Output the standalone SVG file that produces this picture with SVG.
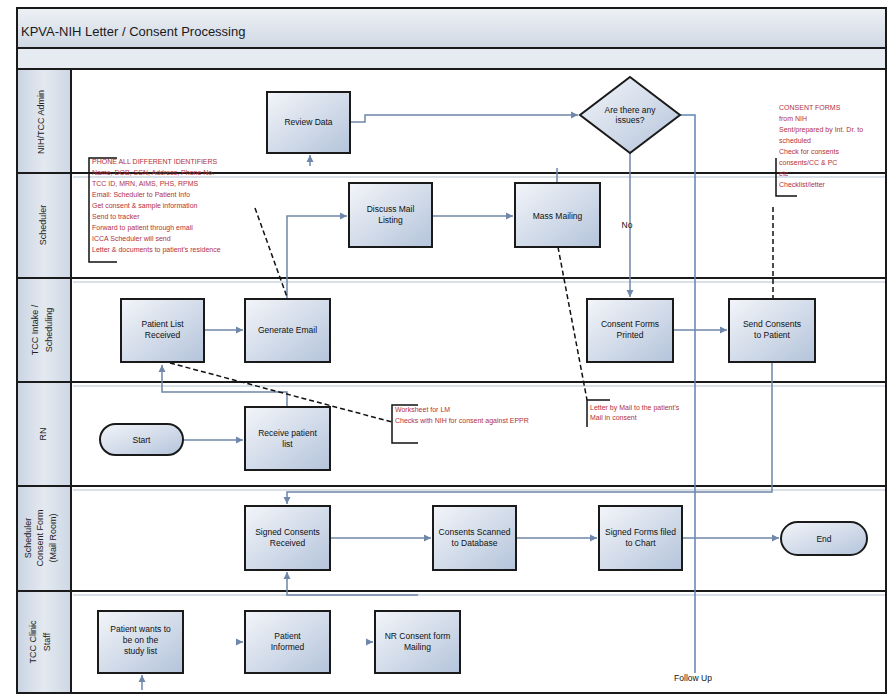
<svg xmlns="http://www.w3.org/2000/svg" width="888" height="695" viewBox="0 0 888 695">
<defs>
<linearGradient id="gBox" x1="0" y1="0" x2="1" y2="1">
<stop offset="0" stop-color="#f3f5f9"/>
<stop offset="1" stop-color="#b4c4db"/>
</linearGradient>
<linearGradient id="gHead" x1="0" y1="0" x2="1" y2="0">
<stop offset="0" stop-color="#c9d4e2"/>
<stop offset="0.5" stop-color="#e4e9f0"/>
<stop offset="1" stop-color="#cdd7e4"/>
</linearGradient>
<linearGradient id="gTitle" x1="0" y1="0" x2="0" y2="1">
<stop offset="0" stop-color="#eef1f5"/>
<stop offset="1" stop-color="#cfd8e3"/>
</linearGradient>
<marker id="arr" markerWidth="8" markerHeight="8" refX="7" refY="4" orient="auto" markerUnits="userSpaceOnUse">
<path d="M0,0.5 L7,4 L0,7.5 Z" fill="#6f87a8"/>
</marker>
</defs>
<style>
.box{fill:url(#gBox);stroke:#1a1a1a;stroke-width:2}
.lbl{font-family:"Liberation Sans",Arial,sans-serif;font-size:8.5px;fill:#111;text-anchor:middle}
.lane{font-family:"Liberation Sans",Arial,sans-serif;font-size:9px;fill:#222;text-anchor:middle}
.note{font-family:"Liberation Sans",Arial,sans-serif;font-size:7px;fill:#b3303c}
.div{stroke:#1a1a1a;stroke-width:2}
.div2{stroke:#cdd6e1;stroke-width:1.5}
.con{fill:none;stroke:#6f87a8;stroke-width:1.5}
.blue{fill:none;stroke:#5f84b8;stroke-width:1.5}
.ann{fill:none;stroke:#111;stroke-width:1.5;stroke-dasharray:5,3}
.brk{fill:none;stroke:#111;stroke-width:1.5}
</style>
<rect x="0" y="0" width="888" height="695" fill="#ffffff"/>
<g id="frame">
<rect x="17" y="8" width="869" height="40" fill="url(#gTitle)"/>
<rect x="17" y="48" width="869" height="20" fill="#e6ebf1"/>
<line x1="17" y1="48" x2="886" y2="48" class="div"/>
<line x1="17" y1="69" x2="886" y2="69" class="div"/>
<text x="21" y="36" font-family="Liberation Sans, Arial, sans-serif" font-size="13" fill="#1a1a1a">KPVA-NIH Letter / Consent Processing</text>
<rect x="17" y="70" width="54" height="623" fill="url(#gHead)"/>
<line x1="71" y1="70" x2="71" y2="693" class="div"/>
<line x1="73" y1="177" x2="886" y2="177" class="div2"/>
<line x1="73" y1="282" x2="886" y2="282" class="div2"/>
<line x1="73" y1="386" x2="886" y2="386" class="div2"/>
<line x1="73" y1="490" x2="886" y2="490" class="div2"/>
<line x1="73" y1="595" x2="886" y2="595" class="div2"/>
<line x1="17" y1="173" x2="886" y2="173" class="div"/>
<line x1="17" y1="278" x2="886" y2="278" class="div"/>
<line x1="17" y1="382" x2="886" y2="382" class="div"/>
<line x1="17" y1="486" x2="886" y2="486" class="div"/>
<line x1="17" y1="591" x2="886" y2="591" class="div"/>
<rect x="17" y="8" width="869" height="685" fill="none" stroke="#1a1a1a" stroke-width="2"/>
<text class="lane" transform="translate(44,122) rotate(-90)">NIH/TCC Admin</text>
<text class="lane" transform="translate(46,225) rotate(-90)">Scheduler</text>
<text class="lane" transform="translate(38,330) rotate(-90)">TCC Intake /</text>
<text class="lane" transform="translate(52,330) rotate(-90)">Scheduling</text>
<text class="lane" transform="translate(46,434) rotate(-90)">RN</text>
<text class="lane" transform="translate(31,538) rotate(-90)">Scheduler</text>
<text class="lane" transform="translate(43,538) rotate(-90)">Consent Form</text>
<text class="lane" transform="translate(56,538) rotate(-90)">(Mail Room)</text>
<text class="lane" transform="translate(36,642) rotate(-90)">TCC Clinic</text>
<text class="lane" transform="translate(50,642) rotate(-90)">Staff</text>
</g>
<g id="connectors">
<path class="con" d="M350,122 H365 V115 H578" marker-end="url(#arr)"/>
<path class="con" d="M310,166 V155" marker-end="url(#arr)"/>
<path class="blue" d="M680,115 H695 V673"/>
<path class="con" d="M630,153 V297" marker-end="url(#arr)"/>
<path class="con" d="M287,299 V216 H347" marker-end="url(#arr)"/>
<path class="con" d="M432,216 H513" marker-end="url(#arr)"/>
<path class="con" d="M557,183 V168"/>
<path class="con" d="M204,330 H243" marker-end="url(#arr)"/>
<path class="con" d="M673,330 H727" marker-end="url(#arr)"/>
<path class="con" d="M772,362 V492 H287 V504" marker-end="url(#arr)"/>
<path class="con" d="M287,407 V392 H162 V365" marker-end="url(#arr)"/>
<path class="con" d="M183,440 H243" marker-end="url(#arr)"/>
<path class="con" d="M330,538 H431" marker-end="url(#arr)"/>
<path class="con" d="M516,538 H597" marker-end="url(#arr)"/>
<path class="con" d="M682,538 H779" marker-end="url(#arr)"/>
<path class="con" d="M418,595 H287 V572" marker-end="url(#arr)"/>
<path class="con" d="M142,690 V675" marker-end="url(#arr)"/>
<path class="con" d="M236,642 H243" marker-end="url(#arr)"/>
<path class="con" d="M366,642 H373" marker-end="url(#arr)"/>
<text x="627" y="228" class="lbl">No</text>
<text x="693" y="681" class="lbl" font-size="7">Follow Up</text>
<path class="ann" d="M255,208 L287,297" stroke-dasharray="2,2"/>
<path class="ann" d="M170,363 L392,422"/>
<path class="ann" d="M558,247 L587,400"/>
<path class="ann" d="M773,207 V298" stroke-dasharray="40,34"/>
</g>
<g id="note-identifiers">
<path class="brk" d="M117,158 H89 V262 H117"/>
<text class="note" x="92" y="164">PHONE ALL DIFFERENT IDENTIFIERS</text>
<text class="note" x="92" y="175">Name, DOB, SSN, Address, Phone No.</text>
<text class="note" x="92" y="186">TCC ID, MRN, AIMS, PHS, RPMS</text>
<text class="note" x="92" y="197">Email: Scheduler to Patient Info</text>
<text class="note" x="92" y="208">Get consent &amp; sample information</text>
<text class="note" x="92" y="219">Send to tracker</text>
<text class="note" x="92" y="230">Forward to patient through email</text>
<text class="note" x="92" y="241">ICCA Scheduler will send</text>
<text class="note" x="92" y="252">Letter &amp; documents to patient's residence</text>
</g>
<g id="note-consent-forms">
<path class="brk" d="M776,158 V196 H797"/>
<text class="note" x="779" y="110">CONSENT FORMS</text>
<text class="note" x="779" y="121">from NIH</text>
<text class="note" x="779" y="132">Sent/prepared by Int. Dr. to</text>
<text class="note" x="779" y="143">scheduled</text>
<text class="note" x="779" y="154">Check for consents</text>
<text class="note" x="779" y="165">consents/CC &amp; PC</text>
<text class="note" x="779" y="176">etc</text>
<text class="note" x="779" y="187">Checklist/letter</text>
</g>
<g id="note-worksheet">
<path class="brk" d="M418,405 H392 V443 H418"/>
<text class="note" x="395" y="412">Worksheet for LM</text>
<text class="note" x="395" y="423">Checks with NIH for consent against EPPR</text>
</g>
<g id="note-letter">
<path class="brk" d="M610,400 H587 V427"/>
<text class="note" x="590" y="410">Letter by Mail to the patient's</text>
<text class="note" x="590" y="420">Mail in consent</text>
</g>
<g id="review-data">
<rect class="box" x="267" y="92" width="83" height="61"/>
<text class="lbl" x="308.5" y="125">Review Data</text>
</g>
<g id="decision">
<polygon class="box" points="630,77 680,115 630,153 580,115"/>
<text class="lbl" x="630" y="113">Are there any</text>
<text class="lbl" x="630" y="123">issues?</text>
</g>
<g id="discuss-mail">
<rect class="box" x="349" y="183" width="83" height="64"/>
<text class="lbl" x="390.5" y="212">Discuss Mail</text>
<text class="lbl" x="390.5" y="223">Listing</text>
</g>
<g id="mass-mailing">
<rect class="box" x="515" y="183" width="85" height="64"/>
<text class="lbl" x="557.5" y="219">Mass Mailing</text>
</g>
<g id="patient-list">
<rect class="box" x="121" y="299" width="83" height="63"/>
<text class="lbl" x="162.5" y="327">Patient List</text>
<text class="lbl" x="162.5" y="338">Received</text>
</g>
<g id="generate-email">
<rect class="box" x="245" y="299" width="85" height="63"/>
<text class="lbl" x="287.5" y="333">Generate Email</text>
</g>
<g id="consent-forms-printed">
<rect class="box" x="587" y="299" width="86" height="63"/>
<text class="lbl" x="630" y="327">Consent Forms</text>
<text class="lbl" x="630" y="338">Printed</text>
</g>
<g id="send-consents">
<rect class="box" x="729" y="299" width="86" height="63"/>
<text class="lbl" x="772" y="327">Send Consents</text>
<text class="lbl" x="772" y="338">to Patient</text>
</g>
<g id="start">
<rect class="box" x="100" y="424" width="83" height="31" rx="15.5"/>
<text class="lbl" x="141.5" y="443">Start</text>
</g>
<g id="receive-list">
<rect class="box" x="245" y="407" width="85" height="63"/>
<text class="lbl" x="287.5" y="436">Receive patient</text>
<text class="lbl" x="287.5" y="447">list</text>
</g>
<g id="signed-consents">
<rect class="box" x="245" y="506" width="85" height="64"/>
<text class="lbl" x="287.5" y="535">Signed Consents</text>
<text class="lbl" x="287.5" y="546">Received</text>
</g>
<g id="consents-scanned">
<rect class="box" x="433" y="506" width="83" height="64"/>
<text class="lbl" x="474.5" y="535">Consents Scanned</text>
<text class="lbl" x="474.5" y="546">to Database</text>
</g>
<g id="signed-forms">
<rect class="box" x="599" y="506" width="83" height="64"/>
<text class="lbl" x="640.5" y="535">Signed Forms filed</text>
<text class="lbl" x="640.5" y="546">to Chart</text>
</g>
<g id="end">
<rect class="box" x="781" y="522" width="86" height="33" rx="16.5"/>
<text class="lbl" x="824" y="542">End</text>
</g>
<g id="patient-wants">
<rect class="box" x="98" y="611" width="85" height="62"/>
<text class="lbl" x="140.5" y="632">Patient wants to</text>
<text class="lbl" x="140.5" y="643">be on the</text>
<text class="lbl" x="140.5" y="654">study list</text>
</g>
<g id="patient-informed">
<rect class="box" x="245" y="611" width="85" height="62"/>
<text class="lbl" x="287.5" y="639">Patient</text>
<text class="lbl" x="287.5" y="650">Informed</text>
</g>
<g id="consent-mailing">
<rect class="box" x="375" y="611" width="85" height="62"/>
<text class="lbl" x="417.5" y="639">NR Consent form</text>
<text class="lbl" x="417.5" y="650">Mailing</text>
</g>
</svg>
